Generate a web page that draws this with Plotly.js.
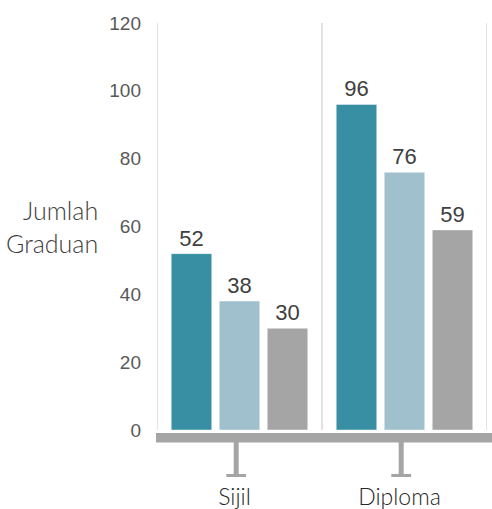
<!DOCTYPE html>
<html>
<head>
<meta charset="utf-8">
<script src="https://cdn.plot.ly/plotly-3.0.1.min.js"></script>
<style>html,body{margin:0;padding:0;background:#fff;}#chart{width:492px;height:509px;}</style>
</head>
<body>
<div id="chart"></div>
<script>
var categories = ["Sijil", "Diploma"];
var series1 = [52, 96];
var series2 = [38, 76];
var series3 = [30, 59];
var yTicks = [0, 20, 40, 60, 80, 100, 120];
var yTitle = "Jumlah<br>Graduan";

var colors = ["#388ea2", "#9fc0cc", "#a5a5a5"];
var numFont = "Liberation Sans Narrow, Arial Narrow, Liberation Sans, Arial, sans-serif";
var geoFont = "Lato, Noto Sans, sans-serif";

function mk(vals, c) {
  return {
    type: "bar", x: categories, y: vals,
    marker: {color: c, line: {color: "rgba(255,255,255,0.45)", width: 1}},
    text: vals.map(String), textposition: "outside", cliponaxis: false,
    textfont: {family: numFont, size: 22, color: "#404040", weight: 400},
    hoverinfo: "none"
  };
}
var data = [mk(series1, colors[0]), mk(series2, colors[1]), mk(series3, colors[2])];

var plotH = 509 - 23 - 79, plotW = 492 - 157 - 5;
var shapes = [];
for (var i = 0; i <= categories.length; i++) {
  shapes.push({type: "line", xref: "x", yref: "y", x0: i - 0.5, x1: i - 0.5, y0: 0, y1: 120,
    line: {color: "#d9d9d9", width: 1.5}, layer: "below"});
}
shapes.push({type: "rect", xref: "paper", yref: "paper", x0: -1 / plotW, x1: 1 + 5 / plotW,
  y0: -12.5 / plotH, y1: -3 / plotH, fillcolor: "#a5a5a5", line: {width: 0}});
categories.forEach(function (c, k) {
  shapes.push({type: "line", xref: "x", yref: "paper", x0: k - 0.02, x1: k - 0.02,
    y0: -12 / plotH, y1: -46 / plotH, line: {color: "#a5a5a5", width: 5}});
  shapes.push({type: "line", xref: "x", yref: "paper", x0: k - 0.08, x1: k + 0.04,
    y0: -45.5 / plotH, y1: -45.5 / plotH, line: {color: "#a5a5a5", width: 3}});
});

var layout = {
  width: 492, height: 509,
  margin: {l: 157, r: 5, t: 23, b: 79, pad: 0},
  paper_bgcolor: "#ffffff", plot_bgcolor: "#ffffff",
  barmode: "group", bargap: 0.127, bargroupgap: 0.156,
  showlegend: false,
  xaxis: {
    type: "category", range: [-0.5, categories.length - 0.5],
    showgrid: false, zeroline: false, showline: false, ticks: "",
    ticklabelstandoff: 51, ticklabelshift: -5,
    tickfont: {family: geoFont, size: 23, color: "#262626", weight: 300},
    fixedrange: true
  },
  yaxis: {
    range: [0, 120], tickvals: yTicks, ticktext: yTicks.map(String),
    showgrid: false, zeroline: false, showline: false, ticks: "",
    ticklabelstandoff: 15,
    tickfont: {family: numFont, size: 19, color: "#595959", weight: 400},
    fixedrange: true
  },
  shapes: shapes,
  annotations: [{
    text: yTitle, xref: "paper", yref: "paper",
    x: -57 / plotW, y: 0.5, xanchor: "right", yanchor: "middle", align: "right",
    showarrow: false,
    font: {family: geoFont, size: 25, color: "#404040", weight: 300}
  }]
};

Plotly.newPlot("chart", data, layout, {staticPlot: true, displayModeBar: false});
</script>
</body>
</html>
